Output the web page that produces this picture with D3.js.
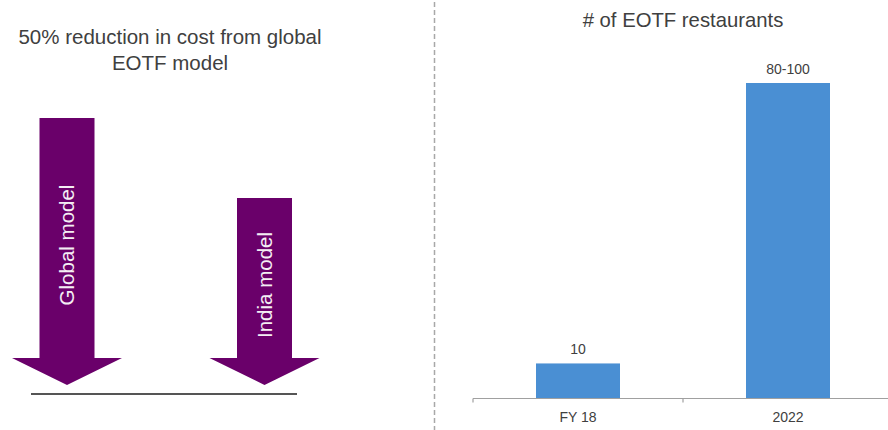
<!DOCTYPE html>
<html>
<head>
<meta charset="utf-8">
<script src="https://cdn.jsdelivr.net/npm/d3@7"></script>
<style>
  html, body { margin: 0; padding: 0; background: #fff; }
  svg { display: block; font-family: Arial, "Liberation Sans", sans-serif; }
</style>
</head>
<body>
<svg id="chart" width="888" height="430"></svg>
<script>
// Cost comparison: relative cost index of each operating model
const models = ["Global model", "India model"];
const costIndex = [100, 50];

// Restaurant count
const periods = ["FY 18", "2022"];
const restaurants = [10, 90];
const restaurantLabels = ["10", "80-100"];

const textColor = "#404040";
const purple = "#6a006a";
const blue = "#4a8fd3";

const svg = d3.select("#chart");

// ---------- Left panel: cost arrows ----------
const left = svg.append("g");

left.append("text")
  .attr("x", 170).attr("y", 44)
  .attr("text-anchor", "middle")
  .attr("font-size", 20.5)
  .attr("fill", textColor)
  .selectAll("tspan")
  .data(["50% reduction in cost from global", "EOTF model"])
  .join("tspan")
  .attr("x", 170)
  .attr("dy", (d, i) => i === 0 ? 0 : 26)
  .text(d => d);

const xModel = d3.scalePoint().domain(models).range([67, 264.5]);
const yCost = d3.scaleLinear().domain([0, 100]).range([278, 118]);
const tipY = 385, headY = 358, shaftHalf = 27.5, headHalf = 55;

const arrows = left.selectAll("g.arrow")
  .data(models.map((m, i) => ({ model: m, cost: costIndex[i] })))
  .join("g").attr("class", "arrow");

arrows.append("path")
  .attr("fill", purple)
  .attr("d", d => {
    const cx = xModel(d.model), top = yCost(d.cost);
    const p = d3.path();
    p.moveTo(cx - shaftHalf, top);
    p.lineTo(cx + shaftHalf, top);
    p.lineTo(cx + shaftHalf, headY);
    p.lineTo(cx + headHalf, headY);
    p.lineTo(cx, tipY);
    p.lineTo(cx - headHalf, headY);
    p.lineTo(cx - shaftHalf, headY);
    p.closePath();
    return p.toString();
  });

arrows.append("text")
  .attr("transform", d => {
    const cx = xModel(d.model), top = yCost(d.cost);
    const cy = (top + headY) / 2 + 7;
    return `translate(${cx},${cy}) rotate(-90)`;
  })
  .attr("text-anchor", "middle")
  .attr("dy", "0.35em")
  .attr("font-size", 20.5)
  .attr("fill", "#f4eef4")
  .text(d => d.model);

left.append("line")
  .attr("x1", 31).attr("x2", 297)
  .attr("y1", 394).attr("y2", 394)
  .attr("stroke", "#555").attr("stroke-width", 2);

// ---------- Divider ----------
svg.append("line")
  .attr("x1", 434.5).attr("x2", 434.5)
  .attr("y1", 2).attr("y2", 430)
  .attr("stroke", "#a8a8a8").attr("stroke-width", 1.5)
  .attr("stroke-dasharray", "5,3");

// ---------- Right panel: restaurant bars ----------
const x = d3.scaleBand().domain(periods).range([473, 893])
  .paddingInner(0.6).paddingOuter(0.3);
const y = d3.scaleLinear().domain([0, 90]).range([398.5, 83]);

const right = svg.append("g");

right.append("text")
  .attr("x", 683).attr("y", 27)
  .attr("text-anchor", "middle")
  .attr("font-size", 20.3)
  .attr("fill", textColor)
  .text("# of EOTF restaurants");

const data = periods.map((p, i) => ({ period: p, value: restaurants[i], label: restaurantLabels[i] }));

right.selectAll("rect.bar")
  .data(data)
  .join("rect").attr("class", "bar")
  .attr("x", d => x(d.period))
  .attr("width", x.bandwidth())
  .attr("y", d => y(d.value))
  .attr("height", d => y(0) - y(d.value))
  .attr("fill", blue);

right.selectAll("text.val")
  .data(data)
  .join("text").attr("class", "val")
  .attr("x", d => x(d.period) + x.bandwidth() / 2)
  .attr("y", d => y(d.value) - 9)
  .attr("text-anchor", "middle")
  .attr("font-size", 14)
  .attr("fill", textColor)
  .text(d => d.label);

// Category axis with boundary ticks between bands
const axis = right.append("g").attr("transform", `translate(0,${y(0)})`);
axis.append("line")
  .attr("x1", 473).attr("x2", 893)
  .attr("stroke", "#a0a0a0").attr("stroke-width", 1.2);
const step = x.step();
const bounds = d3.range(periods.length + 1).map(i => 473 + i * step);
axis.selectAll("line.tick")
  .data(bounds)
  .join("line").attr("class", "tick")
  .attr("x1", d => d).attr("x2", d => d)
  .attr("y1", 0).attr("y2", 4)
  .attr("stroke", "#a0a0a0").attr("stroke-width", 1.2);
axis.selectAll("text.lbl")
  .data(periods)
  .join("text").attr("class", "lbl")
  .attr("x", d => x(d) + x.bandwidth() / 2)
  .attr("y", 23)
  .attr("text-anchor", "middle")
  .attr("font-size", 14)
  .attr("fill", textColor)
  .text(d => d);
</script>
</body>
</html>
